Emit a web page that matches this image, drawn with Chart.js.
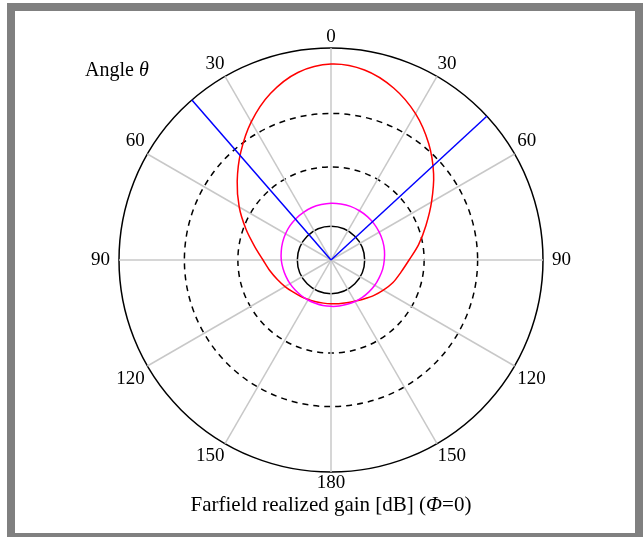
<!DOCTYPE html>
<html>
<head>
<meta charset="utf-8">
<script src="https://cdn.jsdelivr.net/npm/chart.js@4.4.1/dist/chart.umd.min.js"></script>
<style>
  body { margin: 0; width: 643px; height: 537px; overflow: hidden; background: #fff; position: relative; }
  #frame { position: absolute; left: 7px; top: 3px; width: 636px; height: 538px; box-sizing: border-box; border: 8px solid #808080; }
  #polar { position: absolute; left: 91px; top: 21px; }
  .txt { position: absolute; font-family: 'Liberation Serif', serif; color: #000; white-space: nowrap; }
  #angleLabel { left: 85px; top: 59px; font-size: 20px; line-height: 20px; }
  #title { left: 0; width: 662px; text-align: center; top: 494px; font-size: 21px; line-height: 21px; }
</style>
</head>
<body>
<div id="frame"></div>
<canvas id="polar" width="480" height="480"></canvas>
<div class="txt" id="angleLabel">Angle <i>θ</i></div>
<div class="txt" id="title">Farfield realized gain [dB] (<i>Φ</i>=0)</div>
<script>
// theta in degrees, clockwise from the top
const angles = [0, 10, 20, 30, 40, 50, 60, 70, 80, 90, 100, 110, 120, 130, 140, 150, 160, 170,
                180, 190, 200, 210, 220, 230, 240, 250, 260, 270, 280, 290, 300, 310, 320, 330, 340, 350];
const angleTickLabels = ['0', '30', '60', '90', '120', '150', '180', '150', '120', '90', '60', '30'];

// realized gain [dB]
const gainMain = [5.19, 5.04, 4.54, 3.83, 2.97, 2.06, 1.16, 0.40, -0.21, -0.76, -1.12, -1.37,
                  -1.65, -1.90, -2.13, -2.30, -2.40, -2.46, -2.49, -2.49, -2.46, -2.40, -2.31, -2.19,
                  -2.02, -1.82, -1.57, -1.27, -0.79, -0.13, 0.65, 1.48, 2.39, 3.35, 4.24, 4.91];
const gainRef = [-1.84, -1.83, -1.82, -1.83, -1.84, -1.86, -1.89, -1.92, -1.96, -2.01, -2.05, -2.11,
                 -2.15, -2.20, -2.24, -2.28, -2.32, -2.34, -2.36, -2.37, -2.38, -2.37, -2.36, -2.34,
                 -2.31, -2.28, -2.24, -2.19, -2.15, -2.10, -2.05, -2.00, -1.96, -1.92, -1.88, -1.86];

// 3 dB beam directions
const beamAngles = [-41, 47.3];

// radial rings
const gainTicks = [-3, 0, 2.7, 6];
const gainMin = -4.7;
const gainMax = 6;

// draws the beamwidth lines with the radial scale's geometry
const beamLines = {
  id: 'beamLines',
  afterDatasetsDraw(chart) {
    const scale = chart.scales.r;
    const ctx = chart.ctx;
    const step = 360 / angles.length;
    const outer = scale.getDistanceFromCenterForValue(scale.max);
    ctx.save();
    ctx.strokeStyle = '#0000ff';
    ctx.lineWidth = 1.5;
    beamAngles.forEach(a => {
      const p = scale.getPointPosition(((a + 360) % 360) / step, outer);
      ctx.beginPath();
      ctx.moveTo(scale.xCenter, scale.yCenter);
      ctx.lineTo(p.x, p.y);
      ctx.stroke();
    });
    ctx.restore();
  }
};

new Chart(document.getElementById('polar'), {
  type: 'radar',
  data: {
    labels: angles,
    datasets: [
      { data: gainRef, borderColor: '#ff00ff', borderWidth: 1.5, fill: false, pointRadius: 0, tension: 0.3 },
      { data: gainMain, borderColor: '#ff0000', borderWidth: 1.5, fill: false, pointRadius: 0, tension: 0.3 }
    ]
  },
  options: {
    responsive: false,
    devicePixelRatio: 1,
    animation: false,
    events: [],
    plugins: { legend: { display: false }, tooltip: { enabled: false } },
    scales: {
      r: {
        min: gainMin,
        max: gainMax,
        afterBuildTicks: (scale) => { scale.ticks = gainTicks.map(v => ({ value: v })); },
        ticks: { display: false },
        grid: { circular: true, color: '#000', lineWidth: 1.5 },
        border: { dash: (ctx) => (ctx.index > 0 && ctx.index < gainTicks.length - 1) ? [6, 5] : [] },
        angleLines: {
          color: '#c8c8c8',
          lineWidth: (ctx) => ctx.index % 3 === 0 ? 1.5 : 0
        },
        pointLabels: {
          display: true,
          color: '#000',
          font: { family: 'Liberation Serif', size: 19 },
          padding: (ctx) => {
            const a = angles[ctx.index];
            if (a === 90 || a === 270) return 9;
            if (a === 60 || a === 120 || a === 240 || a === 300) return 3;
            if (a === 30 || a === 150 || a === 210 || a === 330) return 1;
            return 0;
          },
          callback: (label, index) => index % 3 === 0 ? angleTickLabels[index / 3] : []
        }
      }
    }
  },
  plugins: [beamLines]
});
</script>
</body>
</html>
